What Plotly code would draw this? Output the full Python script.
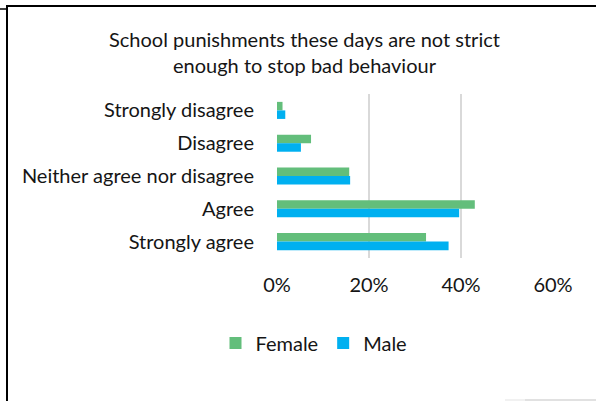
import plotly.graph_objects as go

categories = ["Strongly disagree", "Disagree", "Neither agree nor disagree", "Agree", "Strongly agree"]
female = [0.012, 0.074, 0.157, 0.430, 0.324]
male = [0.018, 0.052, 0.159, 0.396, 0.373]
x_ticks = [0, 0.2, 0.4, 0.6]
x_tick_labels = ["0%", "20%", "40%", "60%"]

W, H = 596, 401
L, R, T, B = 277, 553, 94, 258  # plot area in pixels

def px(x):
    return (x - L) / (R - L)

def py(y):
    return (B - y) / (B - T)

FONT = "Lato"
TXT = "#151515"
FS = 20

fig = go.Figure()
fig.add_trace(go.Bar(y=categories, x=female, name="Female", orientation="h",
                     marker=dict(color="#63BE7B", line=dict(width=0))))
fig.add_trace(go.Bar(y=categories, x=male, name="Male", orientation="h",
                     marker=dict(color="#00B0F0", line=dict(width=0))))

shapes = [
    # chart frame
    dict(type="line", xref="paper", yref="paper", x0=px(6), x1=px(W + 2), y0=py(6), y1=py(6),
         line=dict(color="#000", width=2)),
    dict(type="line", xref="paper", yref="paper", x0=px(7), x1=px(7), y0=py(5), y1=py(H + 2),
         line=dict(color="#000", width=2)),
    dict(type="line", xref="paper", yref="paper", x0=px(0), x1=px(7), y0=py(9), y1=py(9),
         line=dict(color="#000", width=1.5)),
    dict(type="line", xref="paper", yref="paper", x0=px(525), x1=px(W), y0=py(400), y1=py(400),
         line=dict(color="#c4c4c4", width=1.2)),
    dict(type="line", xref="paper", yref="paper", x0=px(505), x1=px(525), y0=py(400), y1=py(400),
         line=dict(color="#e8e8e8", width=1.2)),
]

fig.update_layout(
    width=W, height=H,
    margin=dict(l=L, r=W - R, t=T, b=H - B, pad=0),
    paper_bgcolor="white", plot_bgcolor="white",
    barmode="group", bargap=0.48, bargroupgap=0,
    font=dict(family=FONT, size=FS, color=TXT),
    showlegend=True,
    legend=dict(orientation="h", xref="container", yref="container",
                x=314 / W, y=1 - 343 / H, xanchor="center", yanchor="middle",
                font=dict(size=FS, color=TXT), traceorder="normal", itemwidth=30),
    shapes=shapes,
    annotations=[dict(text="School punishments these days are not strict<br>enough to stop bad behaviour",
                      xref="paper", yref="paper", x=px(304), y=py(52), xanchor="center", yanchor="middle",
                      showarrow=False, font=dict(size=FS, color=TXT, family=FONT), align="center")],
)
fig.update_xaxes(range=[0, 0.6], tickvals=x_ticks, ticktext=x_tick_labels,
                 showgrid=True, gridcolor="#D9D9D9", gridwidth=1.5,
                 zeroline=False, showline=False, ticks="", ticklabelstandoff=13,
                 tickfont=dict(size=FS, color=TXT))
fig.update_yaxes(autorange="reversed", showgrid=False, zeroline=False, showline=False,
                 ticks="", ticklabelstandoff=22, tickfont=dict(size=FS, color=TXT))

fig.write_html("out.html")
